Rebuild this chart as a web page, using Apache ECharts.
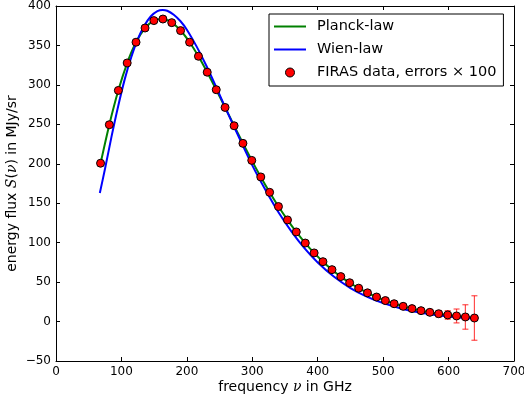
<!DOCTYPE html>
<html style="height: 100%">

<head>
    <meta charset="utf-8">
</head>

<body style="height: 100%; margin: 0; background: #fff">
    <div id="container" style="width: 524px; height: 403px"></div>

    <script type="text/javascript" src="https://cdn.jsdelivr.net/npm/echarts@6/dist/echarts.min.js"></script>

    <script type="text/javascript">

        // FIRAS monopole spectrum, frequency in GHz, flux in MJy/sr
        var firasFreq = [68.1, 81.5, 95.3, 108.8, 122.3, 136.1, 149.6, 163.4, 176.9, 190.4,
            204.2, 217.7, 231.1, 244.9, 258.4, 272.2, 285.7, 299.2, 313.0, 326.5,
            340.0, 353.8, 367.2, 381.0, 394.5, 408.0, 421.8, 435.3, 448.8, 462.6,
            476.1, 489.9, 503.4, 516.8, 530.6, 544.1, 557.9, 571.4, 584.9, 598.7,
            612.2, 625.7, 639.5];
        var firasFlux = [200.7, 249.5, 293.0, 327.8, 354.1, 372.1, 381.5, 383.5, 378.9, 368.8,
            354.1, 336.3, 316.1, 293.9, 271.4, 248.2, 225.9, 204.3, 183.3, 163.8,
            145.8, 128.8, 113.6, 99.5, 87.0, 75.9, 65.8, 57.0, 49.2, 42.3,
            36.4, 31.1, 26.6, 22.6, 19.3, 16.4, 13.8, 11.7, 9.9, 8.4,
            7.1, 5.8, 4.5];
        // errors already multiplied by 100
        var firasErr = [1.4, 1.9, 2.5, 2.3, 2.2, 2.1, 1.8, 1.8, 1.6, 1.4,
            1.3, 1.2, 1.1, 1.0, 1.1, 1.2, 1.4, 1.6, 1.8, 2.2,
            2.2, 2.3, 2.3, 2.3, 2.2, 2.1, 2.0, 1.9, 1.9, 1.9,
            2.1, 2.3, 2.6, 2.8, 3.0, 3.2, 3.3, 3.5, 4.1, 5.5,
            8.8, 15.5, 28.2];

        // Planck-law curve (follows the data)
        var planckFreq = firasFreq;
        var planckFlux = [200.5, 249.6, 293.1, 327.7, 354.0, 372.0, 381.4, 383.4, 378.9, 368.9,
            354.1, 336.3, 316.0, 293.9, 271.4, 248.3, 226.0, 204.3, 183.3, 163.9,
            145.8, 128.9, 113.6, 99.5, 87.0, 75.9, 65.8, 57.0, 49.2, 42.3,
            36.4, 31.1, 26.6, 22.7, 19.3, 16.4, 13.8, 11.7, 9.9, 8.4,
            7.1, 5.9, 4.9];

        // Wien-law curve
        var wienFreq = [67, 75, 85, 95, 105, 115, 125, 135, 145, 155, 163, 170, 180, 190, 200,
            215, 230, 245, 260, 280, 300, 320, 340, 360, 380, 400, 425, 450, 475, 500,
            530, 560, 600, 640];
        var wienFlux = [163, 194, 235, 273, 307, 335, 358, 375, 387, 393.5, 395, 394, 389, 381, 370,
            348.5, 324, 297, 269, 233, 198, 167, 138.5, 114, 92.7, 74.9, 56.7, 42.5, 31.6, 23.3,
            16.0, 10.9, 6.4, 3.7];

        var xTicks = { min: 0, max: 700, step: 100 };
        var yTicks = { min: -50, max: 400, step: 50 };

        function zip(a, b) {
            return a.map(function (v, i) { return [v, b[i]]; });
        }
        var errData = firasFreq.map(function (f, i) {
            return [f, firasFlux[i] - firasErr[i], firasFlux[i] + firasErr[i]];
        });

        var FONT = 'DejaVu Sans';
        var dom = document.getElementById('container');
        var myChart = echarts.init(dom, null, { renderer: 'canvas' });

        function minusFmt(v) {
            return String(v).replace('-', '\u2212');
        }

        var axisCommon = {
            axisLine: { show: true, onZero: false, lineStyle: { color: '#000', width: 1 } },
            axisTick: { show: true, inside: true, length: 4, lineStyle: { color: '#000' } },
            splitLine: { show: false }
        };

        var option = {
            animation: false,
            backgroundColor: '#fff',
            grid: { left: 56, right: 10, top: 6, bottom: 42, containLabel: false, outerBoundsMode: 'none' },
            legend: {
                orient: 'vertical',
                left: 269,
                top: 14,
                padding: [5, 7, 6, 5],
                borderColor: '#000',
                borderWidth: 1,
                borderRadius: 0,
                itemWidth: 32,
                itemHeight: 9,
                itemGap: 8,
                textStyle: { fontFamily: FONT, fontSize: 14.5, lineHeight: 14, color: '#000', padding: [0, 0, 0, 6] },
                data: [
                    { name: 'Planck-law', icon: 'path://M0,0h32v2h-32z', itemStyle: { color: '#008000' } },
                    { name: 'Wien-law', icon: 'path://M0,0h32v2h-32z', itemStyle: { color: '#0000ff' } },
                    { name: 'FIRAS data, errors \u00d7 100', icon: 'circle',
                      itemStyle: { color: '#ff0000', borderColor: '#000', borderWidth: 1 } }
                ]
            },
            xAxis: [
                Object.assign({}, axisCommon, {
                    type: 'value', min: xTicks.min, max: xTicks.max, interval: xTicks.step,
                    name: 'frequency {i|\u03bd} in GHz',
                    nameLocation: 'middle', nameGap: 19, nameMoveOverlap: false,
                    nameTextStyle: {
                        fontFamily: FONT, fontSize: 14, color: '#000',
                        rich: { i: { fontFamily: 'DejaVu Serif', fontStyle: 'italic', fontSize: 14 } }
                    },
                    axisLabel: { fontFamily: FONT, fontSize: 12, color: '#000', margin: 5 }
                }),
                Object.assign({}, axisCommon, {
                    type: 'value', position: 'top', min: xTicks.min, max: xTicks.max, interval: xTicks.step,
                    axisLabel: { show: false }
                })
            ],
            yAxis: [
                Object.assign({}, axisCommon, {
                    type: 'value', min: yTicks.min, max: yTicks.max, interval: yTicks.step,
                    name: 'energy flux {i|S}({i|\u03bd}) in MJy/sr',
                    nameLocation: 'middle', nameGap: 37, nameMoveOverlap: false,
                    nameTextStyle: {
                        fontFamily: FONT, fontSize: 14, color: '#000',
                        rich: { i: { fontFamily: 'DejaVu Serif', fontStyle: 'italic', fontSize: 14 } }
                    },
                    axisLabel: { fontFamily: FONT, fontSize: 12, color: '#000', margin: 5, formatter: minusFmt }
                }),
                Object.assign({}, axisCommon, {
                    type: 'value', position: 'right', min: yTicks.min, max: yTicks.max, interval: yTicks.step,
                    axisLabel: { show: false }
                })
            ],
            series: [
                {
                    name: 'Planck-law',
                    type: 'line',
                    data: zip(planckFreq, planckFlux),
                    smooth: 0.3,
                    symbol: 'none',
                    lineStyle: { color: '#008000', width: 2 },
                    itemStyle: { color: '#008000' },
                    z: 2
                },
                {
                    name: 'Wien-law',
                    type: 'line',
                    data: zip(wienFreq, wienFlux),
                    smooth: 0.3,
                    symbol: 'none',
                    lineStyle: { color: '#0000ff', width: 2 },
                    itemStyle: { color: '#0000ff' },
                    z: 3
                },
                {
                    name: 'errors',
                    type: 'custom',
                    data: errData,
                    z: 4,
                    renderItem: function (params, api) {
                        var x = api.value(0);
                        var lo = api.coord([x, api.value(1)]);
                        var hi = api.coord([x, api.value(2)]);
                        var cap = 3;
                        var style = { stroke: 'rgba(255,0,0,0.7)', lineWidth: 1.2 };
                        return {
                            type: 'group',
                            children: [
                                { type: 'line', shape: { x1: lo[0], y1: lo[1], x2: hi[0], y2: hi[1] }, style: style },
                                { type: 'line', shape: { x1: lo[0] - cap, y1: lo[1], x2: lo[0] + cap, y2: lo[1] }, style: style },
                                { type: 'line', shape: { x1: hi[0] - cap, y1: hi[1], x2: hi[0] + cap, y2: hi[1] }, style: style }
                            ]
                        };
                    }
                },
                {
                    name: 'FIRAS data, errors \u00d7 100',
                    type: 'scatter',
                    data: zip(firasFreq, firasFlux),
                    symbol: 'circle',
                    symbolSize: 8,
                    itemStyle: { color: '#ff0000', borderColor: '#000', borderWidth: 1, opacity: 1 },
                    z: 5
                }
            ]
        };

        myChart.setOption(option);

    </script>
</body>

</html>
